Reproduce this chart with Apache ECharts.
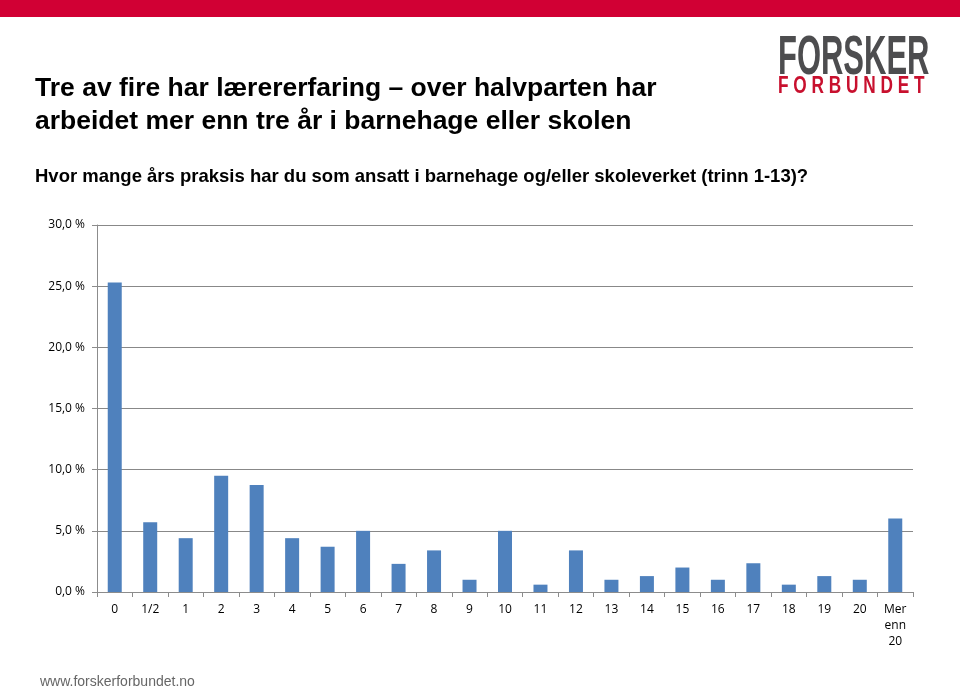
<!DOCTYPE html>
<html><head><meta charset="utf-8">
<script src="https://cdn.jsdelivr.net/npm/echarts@6/dist/echarts.min.js"></script>
<style>html,body{margin:0;padding:0;background:#fff}#c{width:960px;height:686px}</style>
</head><body><div id="c"></div>
<script>
const categories = ['0','1/2','1','2','3','4','5','6','7','8','9','10','11','12','13','14','15','16','17','18','19','20','Mer\nenn\n20'];
const values = [25.3,5.7,4.4,9.5,8.75,4.4,3.7,5.0,2.3,3.4,1.0,5.0,0.6,3.4,1.0,1.3,2.0,1.0,2.35,0.6,1.3,1.0,6.0];
const yTicks = {min:0,max:30,interval:5};
const titleLines = ['Tre av fire har lærererfaring – over halvparten har','arbeidet mer enn tre år i barnehage eller skolen'];
const subtitle = 'Hvor mange års praksis har du som ansatt i barnehage og/eller skoleverket (trinn 1-13)?';

const chart = echarts.init(document.getElementById('c'), null, {renderer:'canvas'});
chart.setOption({
  backgroundColor:'#fff',
  animation:false,
  grid:{left:97,right:47,top:225,bottom:94,containLabel:false},
  xAxis:{type:'category',data:categories,
    axisLine:{lineStyle:{color:'#8c8c8c',width:1}},
    axisTick:{show:true,alignWithLabel:false,length:5,lineStyle:{color:'#8c8c8c'}},
    axisLabel:{color:'#000',fontFamily:'Open Sans, Liberation Sans, sans-serif',fontSize:12,lineHeight:16,margin:10,interval:0}
  },
  yAxis:{type:'value',min:yTicks.min,max:yTicks.max,interval:yTicks.interval,
    axisLine:{show:true,lineStyle:{color:'#8c8c8c'}},
    axisTick:{show:true,length:5,lineStyle:{color:'#8c8c8c'}},
    splitLine:{lineStyle:{color:'#888888',width:1}},
    axisLabel:{color:'#000',fontFamily:'Open Sans, Liberation Sans, sans-serif',fontSize:12,margin:12,
      formatter:v=>v.toFixed(1).replace('.',',')+' %'}
  },
  series:[{type:'bar',data:values,barWidth:14,itemStyle:{color:'#4f81bd'}}],
  graphic:[
    {type:'rect',shape:{x:0,y:0,width:960,height:17},style:{fill:'#d10034'}},
    {type:'text',left:35,top:72,style:{text:titleLines.join('\n'),font:'bold 26.5px "Liberation Sans", Arial, sans-serif',lineHeight:33,fill:'#000'}},
    {type:'text',left:35,top:167,style:{text:subtitle,font:'bold 18.5px "Liberation Sans", Arial, sans-serif',fill:'#000'}},
    {type:'text',x:778,y:31,scaleX:0.553,style:{text:'FORSKER',font:'bold 56px "Liberation Sans", sans-serif',fill:'#4d4d4f'}},
    {type:'text',x:778,y:75,scaleX:0.75,style:{text:'F O R B U N D E T',font:'bold 23px "Liberation Sans", sans-serif',fill:'#c8102e'}},
    {type:'text',left:40,top:675,style:{text:'www.forskerforbundet.no',font:'14px "Liberation Sans", Arial, sans-serif',fill:'#666'}}
  ]
});
</script></body></html>
